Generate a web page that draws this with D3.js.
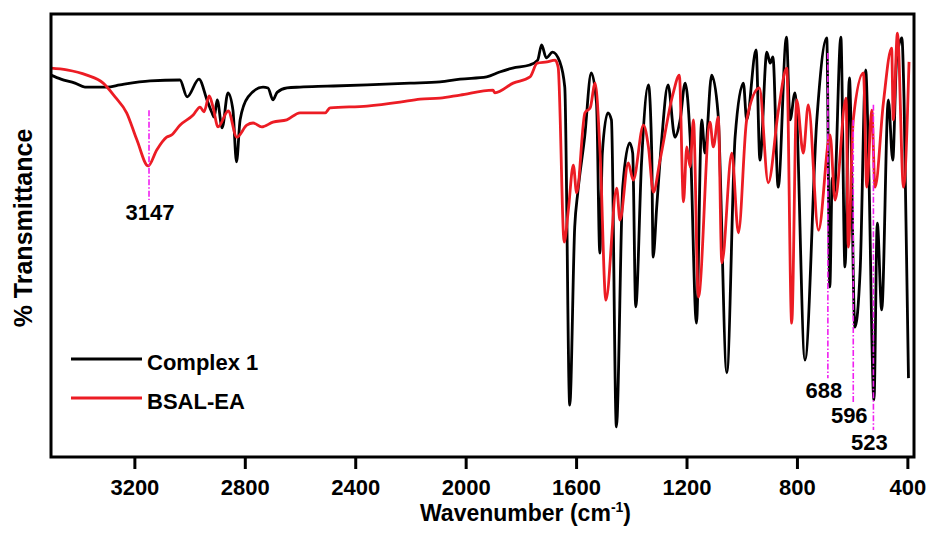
<!DOCTYPE html>
<html>
<head>
<meta charset="utf-8">
<script src="https://cdn.jsdelivr.net/npm/d3@7"></script>
<style>
  body { margin: 0; background: #fff; }
  svg text { font-family: "Liberation Sans", Arial, sans-serif; font-weight: bold; fill: #000; }
</style>
</head>
<body>
<svg width="930" height="535"></svg>
<script>
// Spectra: [wavenumber (cm-1), % transmittance]
var complex1 = [
  [3502, 86.2], [3466, 85.3], [3415, 84.4], [3379, 83.5], [3299, 83.5], [3252, 84.0],
  [3143, 84.9], [3035, 85.1], [3009, 81.3], [2966, 85.3], [2937, 80.6], [2919, 77.7],
  [2911, 76.7], [2900, 80.6], [2882, 74.3], [2861, 82.2], [2843, 78.3], [2830, 66.6],
  [2817, 76.1], [2788, 81.3], [2734, 83.5], [2716, 83.3], [2698, 80.6], [2683, 82.3],
  [2647, 83.3], [2600, 83.5], [2502, 83.7], [2357, 84.0], [2201, 84.4], [2093, 84.7],
  [2020, 85.3], [1924, 85.8], [1877, 86.9], [1830, 87.8], [1768, 88.5], [1739, 89.6],
  [1725, 93.0], [1708, 90.1], [1685, 91.4], [1659, 89.2], [1641, 83.5], [1623, 11.7],
  [1605, 51.9], [1594, 59.6], [1569, 72.2], [1545, 86.7], [1526, 79.9], [1514, 46.0],
  [1505, 68.6], [1485, 77.7], [1472, 76.1], [1454, 6.8], [1431, 60.9], [1406, 70.9],
  [1395, 68.6], [1384, 33.9], [1363, 66.4], [1338, 84.0], [1326, 68.6], [1321, 45.1],
  [1308, 56.4], [1290, 71.6], [1267, 84.0], [1242, 72.2], [1223, 76.1], [1205, 84.4],
  [1187, 72.2], [1164, 30.2], [1145, 76.1], [1133, 68.6], [1109, 86.2], [1086, 77.7],
  [1054, 19.0], [1024, 72.2], [994, 84.4], [982, 76.1], [948, 91.9], [934, 67.0],
  [909, 91.4], [897, 88.9], [887, 90.3], [868, 60.9], [838, 94.8], [825, 76.1],
  [807, 82.2], [771, 21.9], [728, 76.1], [692, 94.6], [681, 38.4], [672, 63.0],
  [665, 59.5], [641, 94.8], [626, 42.9], [610, 85.6], [590, 29.3], [571, 42.2],
  [551, 87.4], [541, 68.6], [521, 12.9], [509, 52.8], [493, 33.2], [469, 80.6],
  [453, 67.0], [439, 89.6], [420, 94.6], [412, 80.6], [396, 17.8]
];

var bsalEA = [
  [3502, 87.8], [3445, 87.4], [3372, 86.2], [3313, 84.4], [3270, 81.3], [3228, 77.7],
  [3191, 71.6], [3150, 65.7], [3119, 69.3], [3083, 72.2], [3065, 72.7], [3035, 74.9],
  [2987, 77.2], [2962, 79.0], [2948, 77.9], [2929, 81.5], [2915, 79.0], [2897, 74.5],
  [2860, 78.1], [2829, 72.2], [2793, 74.9], [2770, 75.4], [2739, 74.5], [2698, 75.6],
  [2648, 76.1], [2600, 77.7], [2509, 77.7], [2491, 78.8], [2357, 79.2], [2238, 80.1],
  [2165, 80.8], [2093, 81.0], [2020, 81.7], [1901, 82.8], [1894, 82.2], [1828, 84.4],
  [1767, 85.8], [1741, 88.9], [1705, 89.2], [1676, 89.6], [1665, 88.0], [1643, 48.5],
  [1628, 55.8], [1610, 65.9], [1598, 59.6], [1568, 77.7], [1549, 78.8], [1531, 84.4],
  [1513, 68.6], [1492, 35.4], [1453, 60.7], [1441, 53.5], [1411, 66.4], [1393, 62.5],
  [1356, 74.9], [1338, 70.0], [1320, 59.8], [1296, 67.0], [1248, 82.2], [1226, 86.2],
  [1211, 57.6], [1199, 70.0], [1187, 65.5], [1175, 76.1], [1157, 36.1], [1115, 75.6],
  [1103, 70.0], [1085, 76.7], [1072, 43.8], [1036, 68.6], [1012, 50.6], [982, 76.1],
  [936, 83.3], [904, 61.9], [867, 78.3], [837, 87.8], [819, 30.2], [801, 80.6],
  [777, 68.6], [759, 79.5], [722, 51.2], [680, 72.7], [662, 58.0], [622, 81.0],
  [614, 47.4], [596, 76.1], [559, 86.7], [547, 60.9], [529, 78.3], [517, 60.9],
  [487, 79.9], [457, 92.3], [451, 76.1], [436, 95.7], [414, 60.9], [394, 89.2]
];

var xTicks = [3200, 2800, 2400, 2000, 1600, 1200, 800, 400];

// marked bands: wavenumber, top and bottom of the marker line (%T)
var bandWn = [3147, 688, 596, 523];
var bandTop = [78.3, 91.2, 76.1, 79.5];
var bandBottom = [58.0, 17.8, 12.2, 6.1];

var seriesNames = ["Complex 1", "BSAL-EA"];
var seriesColors = ["#000000", "#ec1c24"];

var svg = d3.select("svg");
var plotLeft = 51, plotTop = 14, plotRight = 914, plotBottom = 457;

var x = d3.scaleLinear().domain([3502, 376]).range([plotLeft, plotRight]);
var y = d3.scaleLinear().domain([0, 100]).range([plotBottom, plotTop]);

var line = d3.line()
  .x(function (d) { return x(d[0]); })
  .y(function (d) { return y(d[1]); })
  .curve(d3.curveMonotoneX);

// spectra
[complex1, bsalEA].forEach(function (s, i) {
  svg.append("path")
    .datum(s)
    .attr("d", line)
    .attr("fill", "none")
    .attr("stroke", seriesColors[i])
    .attr("stroke-width", 2.8)
    .attr("stroke-linejoin", "round");
});

// band markers
bandWn.forEach(function (wn, i) {
  svg.append("line")
    .attr("x1", x(wn)).attr("x2", x(wn))
    .attr("y1", y(bandTop[i])).attr("y2", y(bandBottom[i]))
    .attr("stroke", "#f020f0")
    .attr("stroke-width", 1.6)
    .attr("stroke-dasharray", "6,2,1.5,2");
  svg.append("text")
    .attr("x", x(wn) + (i === 0 ? 1 : -4))
    .attr("y", y(bandBottom[i]) + 20)
    .attr("text-anchor", "middle")
    .style("font-size", "22px")
    .text(wn);
});

// frame
svg.append("rect")
  .attr("x", plotLeft).attr("y", plotTop)
  .attr("width", plotRight - plotLeft).attr("height", plotBottom - plotTop)
  .attr("fill", "none")
  .attr("stroke", "#000")
  .attr("stroke-width", 3);

// x axis
var xAxis = svg.append("g")
  .attr("transform", "translate(0," + plotBottom + ")")
  .call(d3.axisBottom(x).tickValues(xTicks).tickFormat(d3.format("d"))
    .tickSize(12).tickPadding(10));
xAxis.select(".domain").remove();
xAxis.selectAll(".tick line").attr("stroke", "#000").attr("stroke-width", 3);
xAxis.selectAll(".tick text")
  .style("font-size", "22px")
  .style("font-family", "'Liberation Sans', Arial, sans-serif")
  .style("font-weight", "bold")
  .attr("fill", "#000");

// axis titles
var xt = svg.append("text")
  .attr("x", (plotLeft + plotRight) / 2 + 43)
  .attr("y", 521)
  .attr("text-anchor", "middle")
  .style("font-size", "23px");
xt.append("tspan").text("Wavenumber (cm");
xt.append("tspan").attr("dy", -9).style("font-size", "14px").text("-1");
xt.append("tspan").attr("dy", 9).text(")");

svg.append("text")
  .attr("transform", "translate(32,228) rotate(-90)")
  .attr("text-anchor", "middle")
  .style("font-size", "25px")
  .text("% Transmittance");

// legend
seriesNames.forEach(function (name, i) {
  var ly = 359 + i * 39;
  svg.append("line")
    .attr("x1", 71).attr("x2", 142)
    .attr("y1", ly).attr("y2", ly)
    .attr("stroke", seriesColors[i])
    .attr("stroke-width", 2.8);
  svg.append("text")
    .attr("x", 147).attr("y", ly + 11)
    .style("font-size", "22px")
    .text(name);
});
</script>
</body>
</html>
